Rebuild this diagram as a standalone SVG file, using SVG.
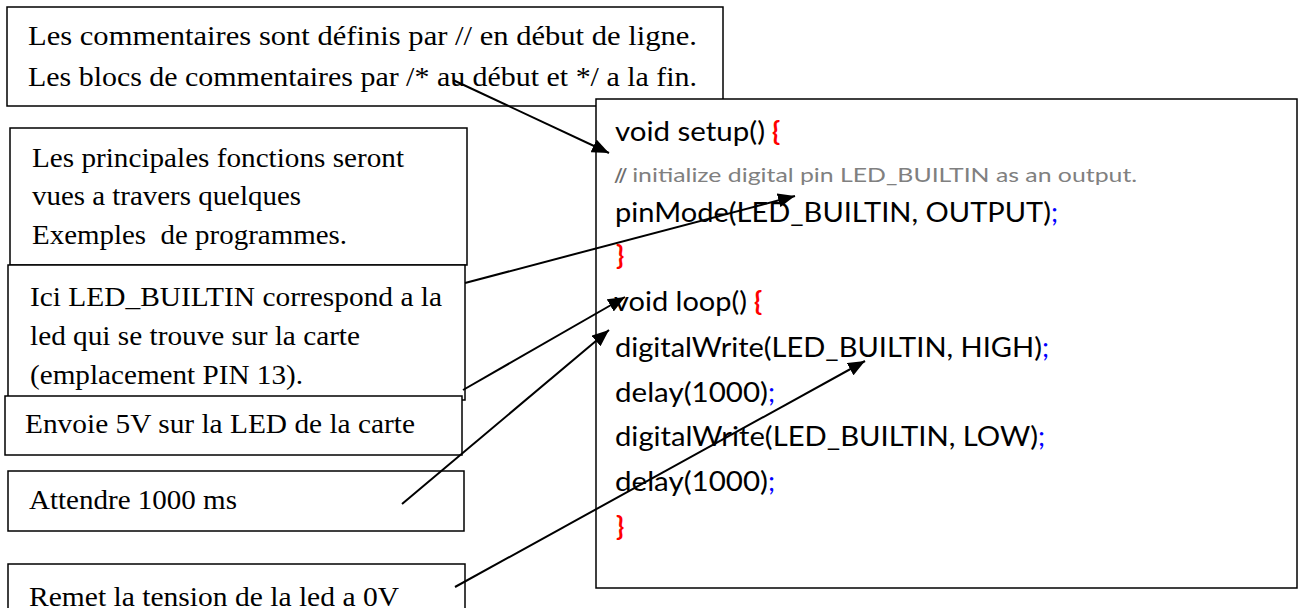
<svg xmlns="http://www.w3.org/2000/svg" width="1304" height="608" viewBox="0 0 1304 608">
<style>
.box{fill:#fff;stroke:#000;stroke-width:1.5}
.t{font-family:"Liberation Serif","Times New Roman",serif;font-size:28px;fill:#000}
.c{font-family:Lato,"Liberation Sans",sans-serif;font-size:27px;fill:#000}
.cm{font-family:Lato,"Liberation Sans",sans-serif;font-size:19px;fill:#808080}
.br{fill:#ff0000;font-weight:bold}
.sc{fill:#0000ff}
.arr{stroke:#000;stroke-width:2;fill:none;marker-end:url(#ah)}
</style>
<defs>
<marker id="ah" markerUnits="userSpaceOnUse" markerWidth="18" markerHeight="14" refX="17" refY="7" orient="auto">
<path d="M0,0 L17,7 L0,14 Z" fill="#000"/>
</marker>
</defs>
<rect width="1304" height="608" fill="#fff"/>
<g id="note-comments">
<rect class="box" x="7" y="7" width="716" height="99"/>
<text class="t" x="28" y="45" textLength="669" lengthAdjust="spacingAndGlyphs">Les commentaires sont définis par // en début de ligne.</text>
<text class="t" x="28" y="86" textLength="669" lengthAdjust="spacingAndGlyphs">Les blocs de commentaires par /* au début et */ a la fin.</text>
</g>
<g id="code">
<rect class="box" x="596" y="99" width="701" height="489"/>
<text class="c" x="615" y="141"><tspan textLength="150" lengthAdjust="spacingAndGlyphs">void setup()</tspan> <tspan class="br">{</tspan></text>
<text class="cm" x="614" y="182"><tspan font-weight="bold" fill="#6e6e6e">//</tspan> <tspan textLength="505" lengthAdjust="spacingAndGlyphs">initialize digital pin LED_BUILTIN as an output.</tspan></text>
<text class="c" x="615" y="222"><tspan textLength="436" lengthAdjust="spacingAndGlyphs">pinMode(LED_BUILTIN, OUTPUT)</tspan><tspan class="sc">;</tspan></text>
<text class="c br" x="616" y="265">}</text>
<text class="c" x="614" y="311"><tspan textLength="133" lengthAdjust="spacingAndGlyphs">void loop()</tspan> <tspan class="br">{</tspan></text>
<text class="c" x="615" y="357"><tspan textLength="427" lengthAdjust="spacingAndGlyphs">digitalWrite(LED_BUILTIN, HIGH)</tspan><tspan class="sc">;</tspan></text>
<text class="c" x="615" y="402"><tspan textLength="153" lengthAdjust="spacingAndGlyphs">delay(1000)</tspan><tspan class="sc">;</tspan></text>
<text class="c" x="615" y="446"><tspan textLength="423" lengthAdjust="spacingAndGlyphs">digitalWrite(LED_BUILTIN, LOW)</tspan><tspan class="sc">;</tspan></text>
<text class="c" x="615" y="491"><tspan textLength="153" lengthAdjust="spacingAndGlyphs">delay(1000)</tspan><tspan class="sc">;</tspan></text>
<text class="c br" x="616" y="536">}</text>
</g>
<g id="note-functions">
<rect class="box" x="10" y="128" width="457" height="137"/>
<text class="t" x="32" y="167" textLength="372" lengthAdjust="spacingAndGlyphs">Les principales fonctions seront</text>
<text class="t" x="32" y="205" textLength="269" lengthAdjust="spacingAndGlyphs">vues a travers quelques</text>
<text class="t" x="32" y="244" textLength="315" lengthAdjust="spacingAndGlyphs" xml:space="preserve">Exemples  de programmes.</text>
</g>
<g id="note-led">
<rect class="box" x="8" y="265" width="457" height="135"/>
<text class="t" x="30" y="306" textLength="412" lengthAdjust="spacingAndGlyphs">Ici LED_BUILTIN correspond a la</text>
<text class="t" x="30" y="345" textLength="330" lengthAdjust="spacingAndGlyphs">led qui se trouve sur la carte</text>
<text class="t" x="30" y="384" textLength="273" lengthAdjust="spacingAndGlyphs">(emplacement PIN 13).</text>
</g>
<g id="note-5v">
<rect class="box" x="5" y="396" width="457" height="59"/>
<text class="t" x="25" y="433" textLength="390" lengthAdjust="spacingAndGlyphs">Envoie 5V sur la LED de la carte</text>
</g>
<g id="note-wait">
<rect class="box" x="8" y="471" width="456" height="60"/>
<text class="t" x="29" y="509" textLength="208" lengthAdjust="spacingAndGlyphs">Attendre 1000 ms</text>
</g>
<g id="note-0v">
<rect class="box" x="8" y="564" width="457" height="60"/>
<text class="t" x="29" y="606" textLength="370" lengthAdjust="spacingAndGlyphs">Remet la tension de la led a 0V</text>
</g>
<g id="connectors">
<line class="arr" x1="453" y1="80" x2="609" y2="153"/>
<line class="arr" x1="465" y1="283" x2="795" y2="196"/>
<line class="arr" x1="463" y1="390" x2="625" y2="297"/>
<line class="arr" x1="402" y1="504" x2="609" y2="330"/>
<line class="arr" x1="455" y1="587" x2="865" y2="361"/>
</g>
</svg>
